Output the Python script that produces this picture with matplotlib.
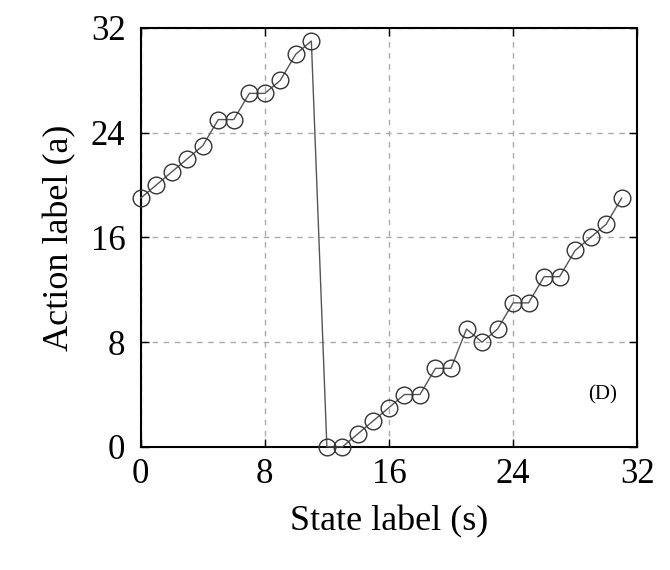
import matplotlib
matplotlib.use("Agg")
import matplotlib.pyplot as plt

states = list(range(32))
actions = [19, 20, 21, 22, 23, 25, 25, 27, 27, 28, 30, 31,
           0, 0, 1, 2, 3, 4, 4, 6, 6, 9, 8, 9,
           11, 11, 13, 13, 15, 16, 17, 19]
ticks = [0, 8, 16, 24, 32]

plt.rcParams["font.family"] = ["Liberation Serif", "DejaVu Serif"]

fig = plt.figure(figsize=(6.7, 5.7), dpi=100)
ax = fig.add_axes([0.21, 0.216, 0.741, 0.735])

ax.plot(states, actions, color="#555555", linewidth=1.0,
        marker="o", markersize=12, markerfacecolor="none",
        markeredgecolor="#333333", markeredgewidth=1.0, clip_on=False, zorder=3)

ax.set_xlim(0, 32)
ax.set_ylim(0, 32)
ax.set_xticks(ticks)
ax.set_yticks(ticks)
ax.tick_params(direction="in", length=6, width=1.0, top=True, right=True,
               labelsize=25)
ax.tick_params(axis="x", pad=8)
ax.tick_params(axis="y", pad=11)
ax.grid(True, linestyle=(0, (4, 4)), color="#aaaaaa", linewidth=1.0)
for s in ax.spines.values():
    s.set_linewidth(1.5)

ax.set_xlabel("State label (s)", fontsize=26, labelpad=10)
ax.set_ylabel("Action label (a)", fontsize=26, labelpad=10)
ax.text(0.93, 0.125, "(D)", transform=ax.transAxes, fontsize=15,
        ha="center", va="center")

fig.savefig("out.png", dpi=100)
